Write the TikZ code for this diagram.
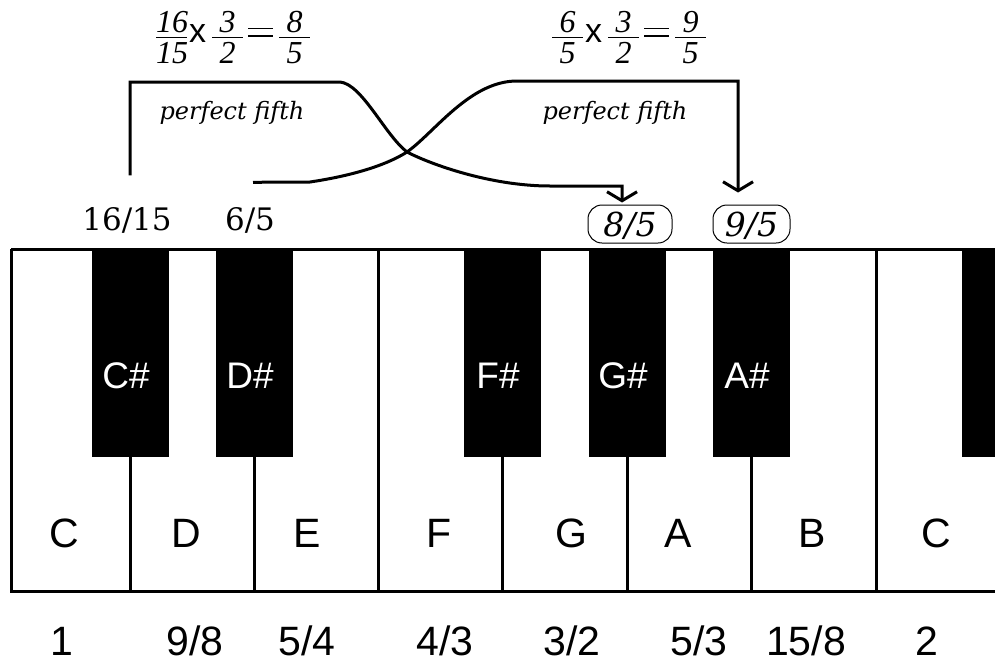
\documentclass[tikz,border=0pt]{standalone}
\usepackage{fontspec}
\setsansfont{Liberation Sans}
\newfontfamily\dvserif{DejaVu Serif}
\newfontfamily\lserif{Liberation Serif}
\usetikzlibrary{arrows.meta}
\newcommand\myfr[2]{\raisebox{-21.4pt}{\vbox{\halign{##\cr\hbox to 31pt{\hfil#1\hfil}\cr\noalign{\kern4pt\hrule height1.6pt\kern4pt}\hbox to 31pt{\hfil#2\hfil}\cr}}}}
\newcommand\myeq{\raisebox{5pt}{\vbox{\hrule width25pt height1.6pt\kern6pt\hrule width25pt height1.6pt}}}
\newcommand\mytimes{{\sffamily\upshape\fontsize{34}{36}\selectfont x}}
\begin{document}
\begin{tikzpicture}[x=1pt,y=-1pt,
  kb/.style={line width=3pt},
  blackkey/.style={fill=black,draw=none,minimum width=77pt,minimum height=208pt,inner sep=0pt,outer sep=0pt},
  blabel/.style={text=white,font=\sffamily\fontsize{37}{40}\selectfont,inner sep=0pt,anchor=base},
  wlabel/.style={font=\sffamily\fontsize{41}{44}\selectfont,inner sep=0pt,anchor=base},
  ratiolbl/.style={font=\sffamily\fontsize{41}{44}\selectfont,inner sep=0pt,anchor=base},
  topratio/.style={font=\dvserif\fontsize{31}{34}\selectfont,inner sep=0pt,anchor=base},
  formula/.style={font=\lserif\itshape\fontsize{32}{36}\selectfont,inner sep=0pt,anchor=base},
  fifth/.style={font=\dvserif\itshape\fontsize{24}{27}\selectfont,inner sep=0pt,anchor=base},
  target/.style={draw,line width=1pt,rounded corners=14pt,minimum height=38pt,inner sep=0pt,text height=25pt,text depth=0pt,font=\dvserif\itshape\fontsize{33}{36}\selectfont},
  conn/.style={line width=3pt,-{Straight Barb[length=9pt,width=30pt]}},
]
\useasboundingbox (0,0) rectangle (995,664);
\clip (0,0) rectangle (995,664);
\fill[white] (0,0) rectangle (995,664);

% black keys
\node[blackkey] (kcs) at (130,353) {};
\node[blackkey] (kds) at (254,353) {};
\node[blackkey] (kfs) at (502,353) {};
\node[blackkey] (kgs) at (627,353) {};
\node[blackkey] (kas) at (751,353) {};
\node[blackkey] (kcs2) at (1000,353) {};

% keyboard outline and white key separators
\draw[kb] (11,249) -- (1000,249);
\draw[kb] (11,249) -- (11,591) -- (1000,591);
\foreach \x in {130,254,502,627,751} \draw[kb] (\x,457) -- (\x,591);
\foreach \x in {378,876} \draw[kb] (\x,249) -- (\x,591);

% black key labels
\node[blabel] (lcs) at (126,388) {C\#};
\node[blabel] (lds) at (250,388) {D\#};
\node[blabel] (lfs) at (498,388) {F\#};
\node[blabel] (lgs) at (623,388) {G\#};
\node[blabel] (las) at (747,388) {A\#};

% white key labels
\node[wlabel] (lc) at (64,547) {C};
\node[wlabel] (ld) at (186,547) {D};
\node[wlabel] (le) at (307,547) {E};
\node[wlabel] (lf) at (439,547) {F};
\node[wlabel] (lg) at (571,547) {G};
\node[wlabel] (la) at (678,547) {A};
\node[wlabel] (lb) at (812,547) {B};
\node[wlabel] (lc2) at (936,547) {C};

% ratios below
\node[ratiolbl] (r1) at (62,655) {1};
\node[ratiolbl] (r2) at (195,655) {9/8};
\node[ratiolbl] (r3) at (307,655) {5/4};
\node[ratiolbl] (r4) at (445,655) {4/3};
\node[ratiolbl] (r5) at (572,655) {3/2};
\node[ratiolbl] (r6) at (699,655) {5/3};
\node[ratiolbl] (r7) at (806,655) {15/8};
\node[ratiolbl] (r8) at (927,655) {2};

% ratios above
\node[topratio] (n1615) at (127,230) {16/15};
\node[topratio] (n65) at (250,230) {6/5};
\node[target,minimum width=84pt] (n85) at (630,224) {8/5};
\node[target,minimum width=77pt] (n95) at (751.5,224) {9/5};

% formulas
\node[formula] (f1) at (233,42) {\myfr{16}{15}\kern2pt\mytimes\kern6pt\myfr{3}{2}\kern5pt\myeq\kern6pt\myfr{8}{5}};
\node[formula] (f2) at (629,42) {\myfr{6}{5}\kern2pt\mytimes\kern6pt\myfr{3}{2}\kern5pt\myeq\kern6pt\myfr{9}{5}};
\node[fifth] (p1) at (232,119) {perfect fifth};
\node[fifth] (p2) at (615,119) {perfect fifth};

% connectors
\draw[conn] ([xshift=3pt,yshift=31.5pt]n1615.north) |- (340,82)
  .. controls (362,84) and (385,135) .. (407,152)
  .. controls (430,164) and (490,186) .. (550,186)
  -| ([xshift=-8pt,yshift=2pt]n85.north);
\draw[conn] ([xshift=3pt,yshift=24.5pt]n65.north) -- (310,182)
  .. controls (350,176) and (385,166) .. (407,152)
  .. controls (435,132) and (470,81) .. (517,81)
  -| ([xshift=-13.5pt,yshift=12pt]n95.north);
\end{tikzpicture}
\end{document}
